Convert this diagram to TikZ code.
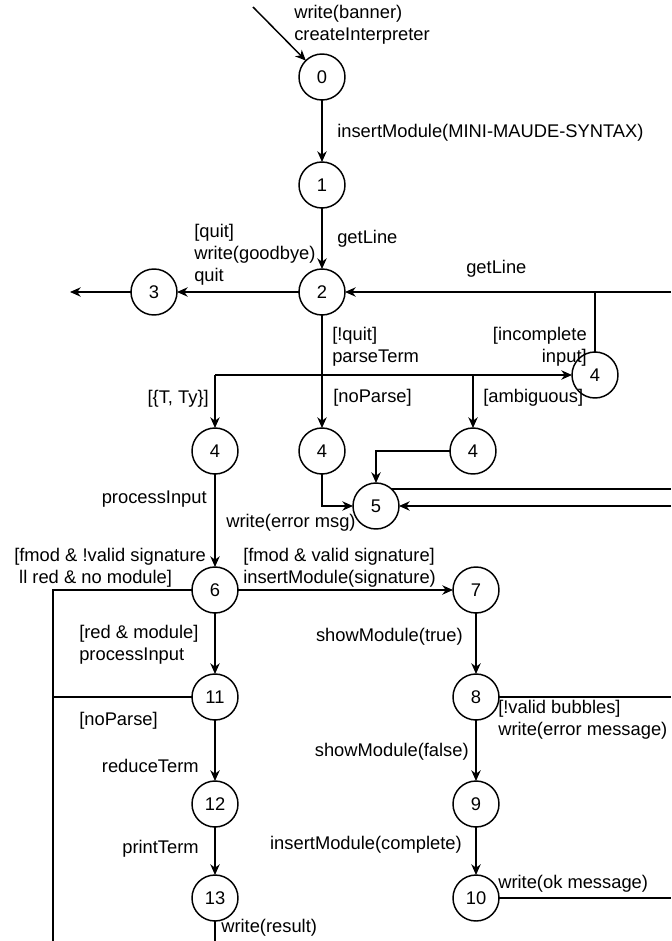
\documentclass[tikz,border=0pt]{standalone}
\usepackage{fontspec}
\setmainfont{Liberation Sans}
\usetikzlibrary{arrows.meta}

\begin{document}
\begin{tikzpicture}[x=0.75pt,y=0.75pt,yscale=-1,xscale=1,
    every node/.style={font=\fontsize{13.75}{16.5}\selectfont},
    state/.style={draw,circle,line width=1.1pt,minimum size=34.5pt,inner sep=0pt,outer sep=0pt},
    lbl/.style={inner sep=0pt,align=left},
    flow/.style={line width=1.1pt,-{Stealth[length=8pt,width=7pt,inset=2.5pt]}},
    wire/.style={line width=1.1pt}]
\useasboundingbox (0,0) rectangle (671,941);

% states
\node[state] (s0) at (322,77) {0};
\node[state] (s1) at (322,185) {1};
\node[state] (s2) at (322,292) {2};
\node[state] (s3) at (154,292) {3};
\node[state] (s4i) at (595,375) {4};
\node[state] (s4t) at (215,451) {4};
\node[state] (s4n) at (322,451) {4};
\node[state] (s4a) at (473,451) {4};
\node[state] (s5) at (376,506) {5};
\node[state] (s6) at (215,590) {6};
\node[state] (s7) at (476,590) {7};
\node[state] (s8) at (476,697) {8};
\node[state] (s9) at (476,804) {9};
\node[state] (s10) at (476,898) {10};
\node[state] (s11) at (215,697) {11};
\node[state] (s12) at (215,804) {12};
\node[state] (s13) at (215,898) {13};

% free ends
\coordinate (start) at (253,7);
\coordinate (exit3) at (70,292);
\coordinate (east2) at (671,292);
\coordinate (split) at (322,375);
\coordinate (east5a) at (671,489);
\coordinate (east5b) at (671,506);
\coordinate (bottom6) at (53,941);
\coordinate (bottom13) at (215,941);
\coordinate (east8) at (671,697);
\coordinate (east10) at (671,898);

% connectors
\draw[flow] (start) -- (s0);
\draw[flow] (s0) -- (s1);
\draw[flow] (s1) -- (s2);
\draw[flow] (s2) -- (s3);
\draw[flow] (s3) -- (exit3);
\draw[flow] (east2) -- (s2);
\draw[wire] (s4i) -- (s4i |- s2);
\draw[flow] (s2) -- (s4n);
\draw[wire] (split) -- (s4t |- split);
\draw[flow] (split) -- (s4i);
\draw[flow] (s4t |- split) -- (s4t);
\draw[flow] (s4a |- split) -- (s4a);
\draw[flow] (s4n) |- (s5);
\draw[flow] (s4a) -| (s5);
\draw[wire] (s5.48) -- (s5.48 -| east5a);
\draw[flow] (east5b) -- (s5);
\draw[flow] (s4t) -- (s6);
\draw[wire] (s6) -| (bottom6);
\draw[wire] (s11) -- (s11 -| bottom6);
\draw[flow] (s6) -- (s7);
\draw[flow] (s6) -- (s11);
\draw[flow] (s7) -- (s8);
\draw[flow] (s8) -- (s9);
\draw[flow] (s9) -- (s10);
\draw[wire] (s8) -- (east8);
\draw[wire] (s10) -- (east10);
\draw[flow] (s11) -- (s12);
\draw[flow] (s12) -- (s13);
\draw[wire] (s13) -- (bottom13);

% labels
\node[lbl,anchor=west] (lbanner) at (294,25) {write(banner)\\createInterpreter};
\node[lbl,anchor=west] (lsyntax) at (337,133) {insertModule(MINI-MAUDE-SYNTAX)};
\node[lbl,anchor=west] (lget1) at (337,239) {getLine};
\node[lbl,anchor=west] (lquit) at (194,255) {[quit]\\write(goodbye)\\quit};
\node[lbl,anchor=west] (lget2) at (466,269) {getLine};
\node[lbl,anchor=west] (lparse) at (332,347) {[!quit]\\parseTerm};
\node[lbl,anchor=east,align=right] (lincomp) at (587,347) {[incomplete\\input]};
\node[lbl,anchor=east] (lterm) at (209,399) {[\{T, Ty\}]};
\node[lbl,anchor=west] (lnoparse) at (333,398) {[noParse]};
\node[lbl,anchor=west] (lambig) at (483,398) {[ambiguous]};
\node[lbl,anchor=east] (lproc) at (207,499) {processInput};
\node[lbl,anchor=west] (lerr) at (226,523) {write(error msg)};
\node[lbl,anchor=west] (lfail) at (14,568) {[fmod \& !valid signature\\\hspace*{3.7pt}ll red \& no module]};
\node[lbl,anchor=west] (lsig) at (243,568) {[fmod \& valid signature]\\insertModule(signature)};
\node[lbl,anchor=west] (lred) at (79,645) {[red \& module]\\processInput};
\node[lbl,anchor=west] (lnoparse2) at (79,721) {[noParse]};
\node[lbl,anchor=east] (lreduce) at (199,766) {reduceTerm};
\node[lbl,anchor=east] (lprint) at (199,849) {printTerm};
\node[lbl,anchor=west] (lresult) at (221,928) {write(result)};
\node[lbl,anchor=east] (ltrue) at (463,637) {showModule(true)};
\node[lbl,anchor=west] (lbubbles) at (498,720) {[!valid bubbles]\\write(error message)};
\node[lbl,anchor=east] (lfalse) at (469,752) {showModule(false)};
\node[lbl,anchor=east] (lcomplete) at (462,845) {insertModule(complete)};
\node[lbl,anchor=west] (lok) at (498,884) {write(ok message)};
\end{tikzpicture}
\end{document}
